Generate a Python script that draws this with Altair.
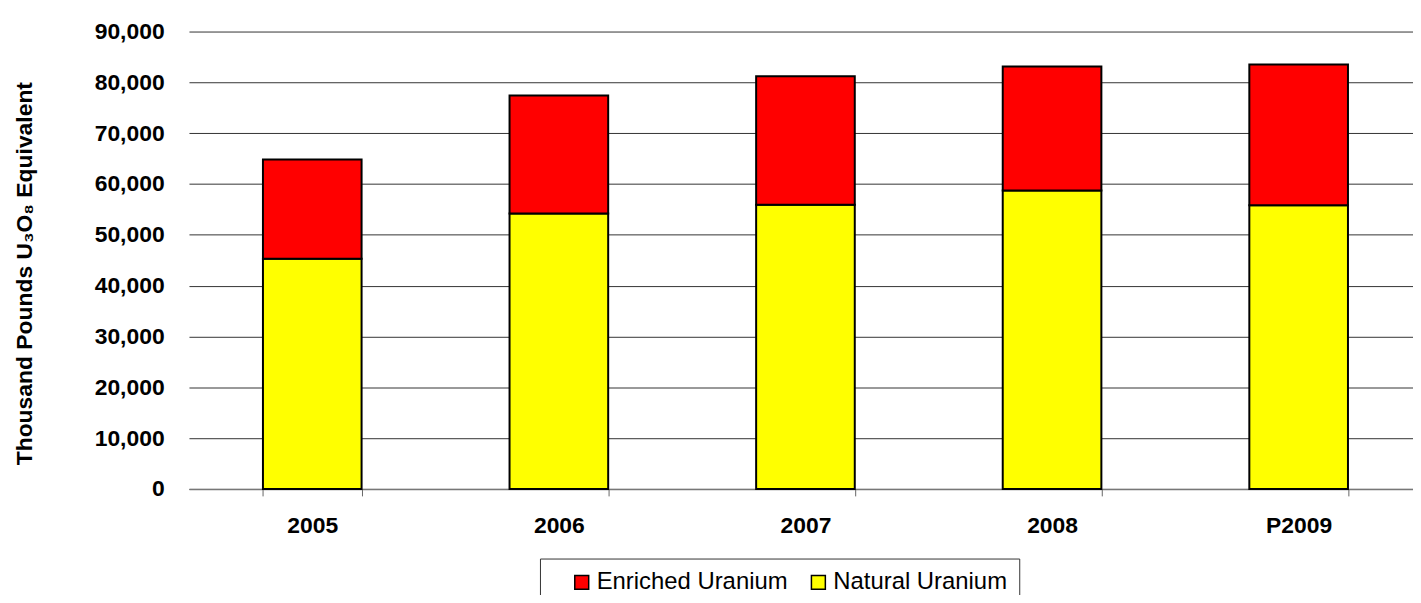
import altair as alt
import pandas as pd

years = ["2005", "2006", "2007", "2008", "P2009"]
natural = [45300, 54200, 55900, 58700, 55800]
total = [64800, 77400, 81200, 83100, 83500]
enriched = [t - n for t, n in zip(total, natural)]
series = ["Enriched Uranium", "Natural Uranium"]
colors = ["#FF0000", "#FFFF00"]

rows = []
for y, n, e in zip(years, natural, enriched):
    rows.append({"year": y, "series": "Natural Uranium", "value": n, "order": 0})
    rows.append({"year": y, "series": "Enriched Uranium", "value": e, "order": 1})
df = pd.DataFrame(rows)

FONT = "Liberation Sans"

chart = alt.Chart(df).mark_bar(stroke="black", strokeWidth=2).encode(
    x=alt.X("year:N", sort=years, title=None,
            scale=alt.Scale(range=[0, 1240], paddingInner=0.6, paddingOuter=0.3),
            axis=alt.Axis(labelAngle=0, labelFont=FONT, labelFontSize=23, labelFontWeight="bold",
                          labelColor="black", labelPadding=19, tickBand="extent", ticks=True,
                          tickSize=7, tickColor="#666", domainColor="#777", domainWidth=1.5,
                          grid=False)),
    y=alt.Y("value:Q", stack="zero",
            scale=alt.Scale(domain=[0, 90000], nice=False),
            axis=alt.Axis(values=list(range(0, 90001, 10000)), format=",d", ticks=False,
                          domain=False, grid=True, gridColor="#333", gridWidth=1,
                          labelFont=FONT, labelFontSize=23, labelFontWeight="bold",
                          labelColor="black", labelPadding=25,
                          title="Thousand Pounds U₃O₈ Equivalent", titleFont=FONT,
                          titleFontSize=23, titleFontWeight="bold", titleColor="black",
                          titleAngle=270, titleX=-165, titleY=243, titleAlign="center",
                          titleBaseline="middle")),
    color=alt.Color("series:N", sort=series,
                    scale=alt.Scale(domain=series, range=colors),
                    legend=alt.Legend(title=None, orient="none", legendX=353, legendY=530,
                                      direction="horizontal", columns=2, symbolType="square",
                                      symbolSize=196, symbolStrokeColor="black",
                                      symbolStrokeWidth=1.5, symbolOffset=18,
                                      labelFont=FONT, labelFontSize=24, labelColor="black",
                                      labelOffset=3, columnPadding=0, padding=12,
                                      strokeColor="#333", fillColor="white", labelLimit=300)),
    order=alt.Order("order:Q"),
).properties(
    width=1231, height=460,
    autosize=alt.AutoSizeParams(type="none"),
    padding={"left": 182, "top": 22, "right": 0, "bottom": 105},
).configure_view(stroke=None)

chart.save("out.html", embed_options={"renderer": "svg", "actions": False})
